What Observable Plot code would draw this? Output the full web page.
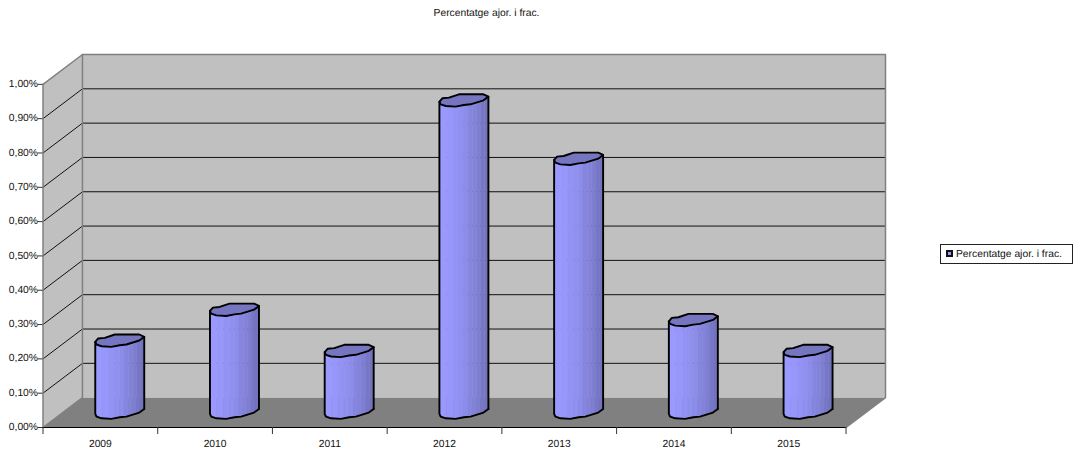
<!DOCTYPE html>
<html><head><meta charset="utf-8">
<script src="https://cdn.jsdelivr.net/npm/d3@7"></script>
<script src="https://cdn.jsdelivr.net/npm/@observablehq/plot@0.6"></script>
<style>
html,body{margin:0;padding:0;background:#fff}
#wrap{position:relative;width:1075px;height:453px;font-family:"Liberation Sans",Arial,sans-serif;color:#111;text-rendering:geometricPrecision}
#title{position:absolute;left:0;width:973px;top:8px;text-align:center;font-size:10.3px;line-height:12px}
#legend{position:absolute;left:940px;top:244px;width:133px;height:20px;box-sizing:border-box;border:1px solid #222;font-size:10.3px;line-height:19px;padding-left:15px;white-space:nowrap;background:#fff}
#legend i{position:absolute;left:5px;top:5px;width:7px;height:7px;box-sizing:border-box;border:2px solid #111;background:#9999ff}
svg{display:block;text-rendering:geometricPrecision}
</style></head><body><div id="wrap">
<div id="title">Percentatge ajor. i frac.</div>
<div id="chart"></div>
<div id="legend"><i></i>Percentatge ajor. i frac.</div>
</div>
<script>
const years = ["2009","2010","2011","2012","2013","2014","2015"];
const values = [0.21,0.30,0.18,0.91,0.74,0.27,0.18];
const yTicks = [0,0.1,0.2,0.3,0.4,0.5,0.6,0.7,0.8,0.9,1];

// Oblique depth of the box, in scale units
const depthX = 0.344, depthY = 0.087;
const radiusX = 0.2135, radiusY = 0.0185; // cylinder section
// Faceted section of the cylinder (unit coordinates)
const section = [[-1,.21],[-.88,-.32],[-.61,-.42],[-.2,-.95],[.8,-.95],[1,-.58],[.8,0],[.27,.63],[0,.74],[-.34,1],[-.74,.9],[-.95,.63]];
const front = [[-1,.21],[-.95,.63],[-.74,.9],[-.34,1],[0,.74],[.27,.63],[.8,0],[1,-.58]];
const stripEdges = [-1,-.72,-.44,-.2,0,.18,.36,.52,.68,.84,1];
const stripShades = [0,.05,.13,.2,.28,.42,.5,.6,.75,.85];

const frontAt = u => {
  for (let i = 0; i < front.length - 1; i++) {
    const [a, b] = [front[i], front[i + 1]];
    if (u <= b[0]) return a[1] + (b[1] - a[1]) * (u - a[0]) / (b[0] - a[0]);
  }
  return front[front.length - 1][1];
};
const cx = i => i + 0.497 + depthX / 2;
const cy = depthY / 2;
const shade = d3.interpolateRgb("#9999ff", "#6c6cb4");

const backWall = [[depthX,depthY],[7+depthX,depthY],[7+depthX,1+depthY],[depthX,1+depthY],[depthX,depthY]].map(([x,y])=>({x,y}));
const sideWall = [[0,0],[depthX,depthY],[depthX,1+depthY],[0,1],[0,0]].map(([x,y])=>({x,y}));
const floor = [[0,0],[7,0],[7+depthX,depthY],[depthX,depthY],[0,0]].map(([x,y])=>({x,y}));
const grid = yTicks.slice(1,-1).flatMap(v => [[0,v],[depthX,v+depthY],[7+depthX,v+depthY]].map(([x,y])=>({x,y,v})));
const frameEdges = [[0,1],[depthX,1+depthY],[7+depthX,1+depthY],[7+depthX,depthY],[7,0]].map(([x,y])=>({x,y}));
const innerEdges = [[depthX,1+depthY],[depthX,depthY],[0,0]].map(([x,y])=>({x,y}));

const strips = [], tops = [], outlines = [];
values.forEach((v,i) => {
  const pt = (u,w,base) => ({x: cx(i)+u*radiusX, y: base+cy-w*radiusY});
  stripShades.forEach((s,k) => {
    const id = i+"-"+k, a = stripEdges[k], b = stripEdges[k+1];
    [[a,v],[b,v],[b,0],[a,0],[a,v]].forEach(([u,base]) => strips.push({...pt(u,frontAt(u),base),id,c:shade(s)}));
  });
  [...section,section[0]].forEach(([u,w]) => tops.push({...pt(u,w,v),id:i}));
  const o = [...front.map(([u,w])=>pt(u,w,0)).reverse(), pt(-1,.21,v)];
  const side = [pt(1,-.58,0), pt(1,-.58,v)];
  o.forEach(p => outlines.push({...p,id:"l"+i}));
  side.forEach(p => outlines.push({...p,id:"r"+i}));
});

const poly = (data,fill) => Plot.line(data,{x:"x",y:"y",fill,stroke:"none",curve:"linear"});

document.getElementById("chart").append(Plot.plot({
  width:1075, height:453,
  marginLeft:42.5, marginRight:190, marginTop:54, marginBottom:26,
  style:{background:"transparent",fontFamily:'"Liberation Sans",Arial,sans-serif',fontSize:"10.3px",color:"#111",overflow:"visible"},
  x:{domain:[0,7+depthX],label:null},
  y:{domain:[0,1+depthY],label:null},
  marks:[
    poly(backWall,"#c0c0c0"),
    poly(sideWall,"#c0c0c0"),
    poly(floor,"#808080"),
    Plot.line(grid,{x:"x",y:"y",z:"v",stroke:"#111",strokeWidth:1}),
    Plot.line(innerEdges,{x:"x",y:"y",stroke:"#808080",strokeWidth:1.5}),
    Plot.line(frameEdges,{x:"x",y:"y",stroke:"#808080",strokeWidth:1.5}),
    Plot.line(strips,{x:"x",y:"y",z:"id",fill:"c",stroke:"c",strokeWidth:0.3}),
    Plot.line(tops,{x:"x",y:"y",z:"id",fill:"#7575c0",stroke:"#000",strokeWidth:1.9}),
    Plot.line(outlines,{x:"x",y:"y",z:"id",stroke:"#000",strokeWidth:1.9}),
    Plot.ruleX([0],{y1:0,y2:1,stroke:"#808080",strokeWidth:1.5}),
    Plot.axisY({anchor:"left",ticks:yTicks,tickSize:5,tickFormat:()=>"",label:null,stroke:"#333"}),
    Plot.axisY({anchor:"left",ticks:yTicks,tickSize:0,tickPadding:5,dy:-0.7,label:null,tickFormat:v=>v.toFixed(2).replace(".",",")+"%"}),
    Plot.ruleY([0],{x1:0,x2:7,stroke:"#000",strokeWidth:1.2}),
    Plot.axisX({anchor:"bottom",ticks:d3.range(8),tickSize:7,tickFormat:()=>"",label:null,stroke:"#333"}),
    Plot.axisX({anchor:"bottom",ticks:years.map((_,i)=>i+.5),tickSize:0,tickPadding:12,tickFormat:x=>years[x-.5],label:null})
  ]
}));
</script></body></html>
